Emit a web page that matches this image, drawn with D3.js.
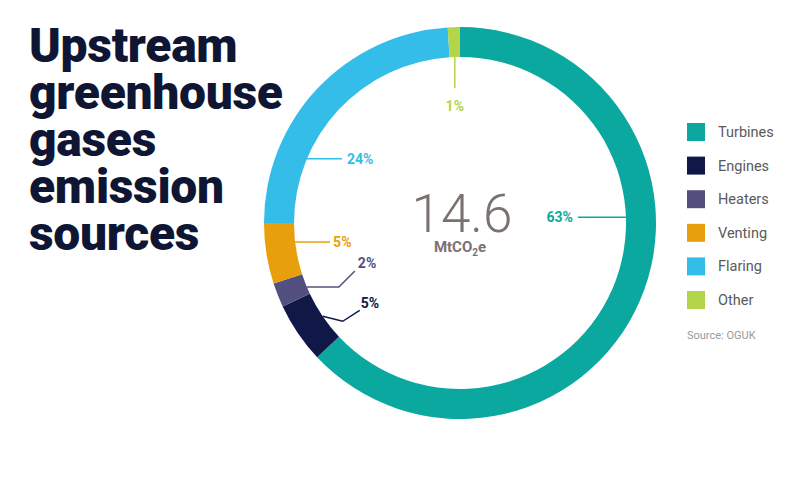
<!DOCTYPE html>
<meta charset="utf-8">
<head>
  <script src="https://cdn.jsdelivr.net/npm/d3@7"></script>
  <style>
    body { margin: 0; background: #fff; }
    svg { font-family: Roboto, "Noto Sans", sans-serif; }
  </style>
</head>
<body>
<script>

// datos
var sources = ["Turbines", "Engines", "Heaters", "Venting", "Flaring", "Other"];
var shares = [63, 5, 2, 5, 24, 1];
var colors = ["#0aa89e", "#101847", "#53507f", "#e89f0c", "#35bdea", "#b4d44a"];
var totalValue = "14.6";
var titleLines = ["Upstream", "greenhouse", "gases", "emission", "sources"];

// donde sale cada etiqueta (angulo en grados sobre el borde interior) y su codo
var labelLayout = [
  {angle: 88,    path: [[-48, 0]],             anchor: "end",    dx: -5, dy: 5},
  {angle: 235.8, path: [[20, 5], [37, -6]],    anchor: "start",  dx: 1,  dy: -2},
  {angle: 247.3, path: [[32, 0], [48, -16]],   anchor: "start",  dx: 3,  dy: -3},
  {angle: 263.4, path: [[35, 0]],              anchor: "start",  dx: 3,  dy: 5},
  {angle: 292.8, path: [[35, 0]],              anchor: "start",  dx: 5,  dy: 5},
  {angle: 358.2, path: [[0, 31]],              anchor: "middle", dx: 0,  dy: 23}
];

var W = 800, H = 480;
var cx = 460, cy = 223, rOut = 196, rIn = 166;

var svg = d3.select("body").append("svg")
  .attr("width", W).attr("height", H);

// titulo, una linea por texto
svg.append("g").selectAll("text")
  .data(titleLines).enter().append("text")
  .attr("x", 29)
  .attr("y", function(d, i) { return 62 + i * 47; })
  .attr("fill", "#0e1634")
  .style("font-size", "48px").style("font-weight", 900)
  .style("letter-spacing", "-0.3px")
  .text(function(d) { return d; });

// dona
var pie = d3.pie().sort(null).value(function(d) { return d; });
var arc = d3.arc().innerRadius(rIn).outerRadius(rOut);
var arcs = pie(shares);

var g = svg.append("g").attr("transform", "translate(" + cx + "," + cy + ")");

g.selectAll("path.slice")
  .data(arcs).enter().append("path")
  .attr("class", "slice")
  .attr("d", arc)
  .attr("fill", function(d, i) { return colors[i]; });

// etiquetas con lineas guia
arcs.forEach(function(d, i) {
  var L = labelLayout[i];
  var a = L.angle * Math.PI / 180;
  var x0 = rIn * Math.sin(a), y0 = -rIn * Math.cos(a);
  var pts = [[x0, y0]];
  L.path.forEach(function(p) { pts.push([x0 + p[0], y0 + p[1]]); });
  var last = pts[pts.length - 1];

  g.append("path")
    .attr("d", d3.line()(pts))
    .attr("fill", "none")
    .attr("stroke", colors[i])
    .attr("stroke-width", 1.5);

  g.append("text")
    .attr("x", last[0] + L.dx).attr("y", last[1] + L.dy)
    .attr("text-anchor", L.anchor)
    .attr("fill", colors[i])
    .style("font-size", "14px").style("font-weight", 700)
    .text(shares[i] + "%");
});

// valor central
g.append("text")
  .attr("x", 2).attr("y", 9)
  .attr("text-anchor", "middle")
  .attr("fill", "#7b7270")
  .style("font-size", "53px").style("font-weight", 300)
  .text(totalValue);

var unit = g.append("text")
  .attr("x", 0).attr("y", 29)
  .attr("text-anchor", "middle")
  .attr("fill", "#7b7270")
  .style("font-size", "15px").style("font-weight", 700);
unit.append("tspan").text("MtCO");
unit.append("tspan").attr("dy", 4).style("font-size", "10px").text("2");
unit.append("tspan").attr("dy", -4).text("e");

// leyenda
var ly = d3.scalePoint().domain(sources).range([132, 300]);

var legend = svg.append("g").selectAll("g")
  .data(sources).enter().append("g")
  .attr("transform", function(d) { return "translate(687," + ly(d) + ")"; });

legend.append("rect")
  .attr("x", 0).attr("y", -9)
  .attr("width", 18).attr("height", 18)
  .attr("fill", function(d, i) { return colors[i]; });

legend.append("text")
  .attr("x", 31).attr("y", 5)
  .attr("fill", "#5a5a5a")
  .style("font-size", "14.5px")
  .text(function(d) { return d; });

svg.append("text")
  .attr("x", 687).attr("y", 339)
  .attr("fill", "#9a9a9a")
  .style("font-size", "11px")
  .text("Source: OGUK");

</script>
</body>
